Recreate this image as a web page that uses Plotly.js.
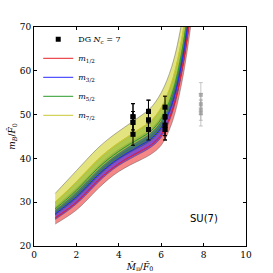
<!DOCTYPE html>
<html><head><meta charset="utf-8">
<script src="https://cdn.plot.ly/plotly-3.0.1.min.js"></script>
<style>html,body{margin:0;padding:0;background:#fff}#c{width:273px;height:273px}</style>
</head><body><div id="c"></div>
<script>
// x grid for the bands
const xGrid = [1, 1.5, 2, 2.5, 3, 3.5, 4, 4.5, 5, 5.5, 6, 6.5, 7, 7.5];
// m_{1/2} (red)
const redLo  = [25.0, 26.5, 28.2, 30.5, 33.0, 35.2, 37.0, 38.4, 39.6, 40.9, 43.0, 48.0, 58.0, 74.0];
const redMid = [26.4, 28.1, 30.0, 32.4, 34.9, 37.0, 38.8, 40.3, 41.6, 43.0, 45.4, 50.6, 60.8, 77.6];
const redHi  = [27.8, 29.7, 31.8, 34.2, 36.7, 38.9, 40.7, 42.2, 43.6, 45.1, 47.8, 53.2, 63.6, 81.2];
// m_{3/2} (blue)
const blueLo  = [26.05, 27.7, 29.6, 31.9, 34.4, 36.6, 38.4, 39.8, 41.1, 42.5, 44.8, 50.0, 60.1, 76.7];
const blueMid = [27.3, 29.2, 31.2, 33.6, 36.1, 38.2, 40.0, 41.5, 42.9, 44.4, 47.0, 52.3, 62.6, 79.9];
const blueHi  = [28.85, 31.0, 33.2, 35.6, 38.1, 40.3, 42.1, 43.6, 45.1, 46.7, 49.6, 55.2, 65.7, 83.9];
// m_{5/2} (green)
const greenLo  = [27.1, 28.9, 30.9, 33.3, 35.8, 38.0, 39.8, 41.3, 42.6, 44.1, 46.6, 51.9, 62.2, 79.4];
const greenMid = [28.5, 30.5, 32.7, 35.2, 37.7, 39.8, 41.6, 43.2, 44.6, 46.2, 49.0, 54.5, 65.0, 83.0];
const greenHi  = [29.9, 32.2, 34.5, 37.0, 39.5, 41.6, 43.4, 45.0, 46.6, 48.3, 51.4, 57.1, 67.8, 86.6];
// m_{7/2} (yellow)
const yelLo  = [28.15, 30.1, 32.3, 34.7, 37.2, 39.3, 41.1, 42.7, 44.1, 45.7, 48.4, 53.9, 64.3, 82.1];
const yelMid = [30.0, 32.3, 34.7, 37.2, 39.7, 41.8, 43.6, 45.2, 46.8, 48.5, 51.6, 57.4, 68.1, 87.0];
const yelHi  = [32.0, 34.6, 37.2, 39.8, 42.3, 44.4, 46.2, 47.9, 49.6, 51.5, 55.0, 61.0, 72.0, 92.0];

// lattice points (DG N_c = 7)
const dgX   = [4.67, 4.67, 4.67, 5.40, 5.40, 5.40, 6.18, 6.18, 6.18, 6.18];
const dgY   = [49.5, 48.2, 45.5, 50.7, 48.8, 46.6, 51.7, 49.5, 47.6, 46.6];
const dgErr = [3.0, 2.5, 2.5, 2.6, 2.4, 2.4, 2.5, 2.4, 2.4, 2.4];
// grey points
const gX   = [7.87, 7.87, 7.87, 7.87];
const gY   = [54.5, 52.4, 51.1, 50.3];
const gErr = [2.8, 2.4, 2.4, 2.9];

const bands = [
  {name:'<i>m</i><sub>1/2</sub>', lo:redLo, mid:redMid, hi:redHi, fill:'rgba(240,55,55,0.6)', line:'#e8202a'},
  {name:'<i>m</i><sub>3/2</sub>', lo:blueLo, mid:blueMid, hi:blueHi, fill:'rgba(60,40,250,0.6)', line:'#2a2aff'},
  {name:'<i>m</i><sub>5/2</sub>', lo:greenLo, mid:greenMid, hi:greenHi, fill:'rgba(30,140,30,0.6)', line:'#2a9a2a'},
  {name:'<i>m</i><sub>7/2</sub>', lo:yelLo, mid:yelMid, hi:yelHi, fill:'rgba(210,210,50,0.62)', line:'#c8c832'}
];

const traces = [];
traces.push({x:dgX, y:dgY, mode:'markers', name:'DG <i>N</i><sub>c</sub> = 7',
  marker:{symbol:'square', size:5, color:'#000'},
  error_y:{type:'data', array:dgErr, color:'#000', thickness:1, width:2}});
bands.forEach((b) => {
  traces.push({x:xGrid, y:b.mid, mode:'lines', name:b.name, line:{color:b.line, width:1, shape:'spline'}});
});
bands.forEach((b) => {
  traces.push({x:xGrid, y:b.lo, mode:'lines', line:{color:'rgba(70,70,70,0.7)', width:0.6, shape:'spline'}, showlegend:false, hoverinfo:'skip'});
  traces.push({x:xGrid, y:b.hi, mode:'lines', fill:'tonexty', fillcolor:b.fill, line:{color:'rgba(70,70,70,0.7)', width:0.6, shape:'spline'}, showlegend:false, hoverinfo:'skip'});
});
// draw band centre lines above fills: re-add as non-legend
bands.forEach((b) => {
  traces.push({x:xGrid, y:b.mid, mode:'lines', showlegend:false, line:{color:b.line, width:1, shape:'spline'}});
});
traces.push({x:gX, y:gY, mode:'markers', showlegend:false,
  marker:{symbol:'square', size:4, color:'rgba(150,150,150,0.7)'},
  error_y:{type:'data', array:gErr, color:'rgba(160,160,160,0.6)', thickness:1, width:2}});
traces.push({x:dgX, y:dgY, mode:'markers', showlegend:false,
  marker:{symbol:'square', size:5, color:'#000'},
  error_y:{type:'data', array:dgErr, color:'#000', thickness:1, width:2}});

const axisCommon = {showgrid:false, zeroline:false, showline:true, linecolor:'#000', linewidth:1, mirror:'ticks',
  ticks:'inside', ticklen:3, tickcolor:'#000', tickfont:{family:'DejaVu Serif', size:9, color:'#000'}};

const layout = {
  width:273, height:273,
  margin:{l:34, r:27, t:27, b:27},
  paper_bgcolor:'#fff', plot_bgcolor:'#fff',
  xaxis:Object.assign({}, axisCommon, {range:[0,10], tickvals:[0,2,4,6,8,10],
    title:{text:'<i>M̂</i><sub>π</sub>/<i>F̂</i><sub>0</sub>', font:{family:'DejaVu Serif', size:9, color:'#000'}, standoff:4}}),
  yaxis:Object.assign({}, axisCommon, {range:[20,70], tickvals:[20,30,40,50,60,70],
    title:{text:'<i>m<sub>B</sub></i>/<i>F̂</i><sub>0</sub>', font:{family:'DejaVu Serif', size:9, color:'#000'}, standoff:2}}),
  legend:{x:0.02, y:1.01, xanchor:'left', yanchor:'top', traceorder:'normal', bgcolor:'rgba(0,0,0,0)', font:{family:'DejaVu Serif', size:8, color:'#000'}, tracegroupgap:0, itemwidth:30},
  annotations:[{x:8.0, y:26.3, xref:'x', yref:'y', text:'SU(7)', showarrow:false, font:{family:'DejaVu Sans', size:10, color:'#000'}}],
  showlegend:true
};
Plotly.newPlot('c', traces, layout, {staticPlot:true, displayModeBar:false});
</script></body></html>
